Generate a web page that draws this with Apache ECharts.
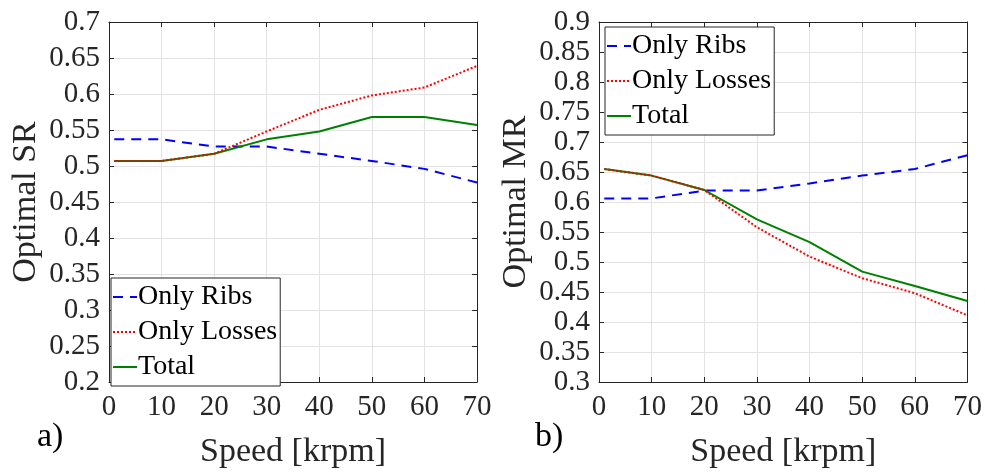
<!DOCTYPE html>
<html>
<head>
<meta charset="utf-8">
<script src="https://cdn.jsdelivr.net/npm/echarts@6/dist/echarts.min.js"></script>
<style>html,body{margin:0;padding:0;background:#fff}#c{width:985px;height:474px}</style>
</head>
<body>
<div id="c"></div>
<script>
const speeds = [1, 10, 20, 30, 40, 50, 60, 70];
const srRibs   = [0.537, 0.537, 0.527, 0.527, 0.517, 0.507, 0.496, 0.477];
const srLosses = [0.507, 0.507, 0.517, 0.548, 0.578, 0.598, 0.609, 0.639];
const srTotal  = [0.507, 0.507, 0.517, 0.537, 0.548, 0.568, 0.568, 0.557];
const mrRibs   = [0.606, 0.606, 0.619, 0.619, 0.631, 0.644, 0.655, 0.678];
const mrLosses = [0.655, 0.644, 0.620, 0.558, 0.509, 0.473, 0.448, 0.411];
const mrTotal  = [0.655, 0.644, 0.620, 0.571, 0.533, 0.484, 0.460, 0.435];
const seriesNames = ['Only Ribs', 'Only Losses', 'Total'];
const xTicks = [0, 10, 20, 30, 40, 50, 60, 70];

const FONT = 'Liberation Serif';
const TXT = '#262626';
const pairs = (ys) => speeds.map((s, i) => [s, ys[i]]);

function xAxes(gi) {
  return [
    { gridIndex: gi, type: 'value', min: xTicks[0], max: xTicks[xTicks.length - 1], interval: 10, position: 'bottom',
      name: 'Speed [krpm]', nameLocation: 'middle', nameGap: 53,
      nameTextStyle: { fontFamily: FONT, fontSize: 34, color: TXT },
      axisLine: { show: true, lineStyle: { color: TXT, width: 1 } },
      axisTick: { show: true, inside: true, length: 5, lineStyle: { color: TXT } },
      axisLabel: { fontFamily: FONT, fontSize: 29, color: TXT, margin: 11 },
      splitLine: { show: true, lineStyle: { color: '#e3e3e3', width: 1 } } },
    { gridIndex: gi, type: 'value', min: xTicks[0], max: xTicks[xTicks.length - 1], interval: 10, position: 'top',
      axisLine: { show: true, onZero: false, lineStyle: { color: TXT, width: 1 } },
      axisTick: { show: true, inside: true, length: 5, lineStyle: { color: TXT } },
      axisLabel: { show: false }, splitLine: { show: false } }
  ];
}
function yAxes(gi, min, max, name) {
  return [
    { gridIndex: gi, type: 'value', min: min, max: max, interval: 0.05, position: 'left',
      name: name, nameLocation: 'middle', nameGap: 66, nameRotate: 90,
      nameTextStyle: { fontFamily: FONT, fontSize: 34, color: TXT },
      axisLine: { show: true, onZero: false, lineStyle: { color: TXT, width: 1 } },
      axisTick: { show: true, inside: true, length: 5, lineStyle: { color: TXT } },
      axisLabel: { fontFamily: FONT, fontSize: 29, color: TXT, margin: 9,
        formatter: v => String(+v.toFixed(2)) },
      splitLine: { show: true, lineStyle: { color: '#e3e3e3', width: 1 } } },
    { gridIndex: gi, type: 'value', min: min, max: max, interval: 0.05, position: 'right',
      axisLine: { show: true, onZero: false, lineStyle: { color: TXT, width: 1 } },
      axisTick: { show: true, inside: true, length: 5, lineStyle: { color: TXT } },
      axisLabel: { show: false }, splitLine: { show: false } }
  ];
}
const styles = [
  { color: '#0000ff', type: [10, 7] },
  { color: '#ff0000', type: [2, 2] },
  { color: '#008000', type: 'solid' }
];
function mkSeries(xi, yi, datasets) {
  return datasets.map((d, k) => ({
    name: seriesNames[k], type: 'line', xAxisIndex: xi, yAxisIndex: yi,
    data: pairs(d), symbol: 'none', showSymbol: false, silent: true,
    lineStyle: { color: styles[k].color, width: 2, type: styles[k].type },
    itemStyle: { color: styles[k].color },
    z: k === 1 ? 4 : 3
  }));
}
function mkLegend(left, top) {
  return {
    left: left, top: top, orient: 'vertical', data: seriesNames,
    backgroundColor: '#fff', borderColor: TXT, borderWidth: 1,
    padding: [5, 3, 5, 1], itemGap: 7, itemWidth: 24, itemHeight: 14,
    selectedMode: false,
    itemStyle: { opacity: 0, borderWidth: 0 },
    textStyle: { fontFamily: FONT, fontSize: 28, color: '#000', padding: [0, 0, 0, -4] }
  };
}

const chart = echarts.init(document.getElementById('c'), null, { renderer: 'canvas' });
chart.setOption({
  animation: false,
  backgroundColor: '#fff',
  textStyle: { fontFamily: FONT },
  title: [
    { text: 'a)', left: 37, top: 420, textStyle: { fontFamily: FONT, fontSize: 34, fontWeight: 'normal', color: '#000' }, padding: 0 },
    { text: 'b)', left: 535, top: 420, textStyle: { fontFamily: FONT, fontSize: 34, fontWeight: 'normal', color: '#000' }, padding: 0 }
  ],
  grid: [
    { left: 109, right: 508, top: 22, bottom: 84 },
    { left: 599, right: 17, top: 22, bottom: 84 }
  ],
  xAxis: [...xAxes(0), ...xAxes(1)],
  yAxis: [...yAxes(0, 0.2, 0.7, 'Optimal SR'), ...yAxes(1, 0.3, 0.9, 'Optimal MR')],
  legend: [mkLegend(111, 278), mkLegend(605, 27)],
  series: [
    ...mkSeries(0, 0, [srRibs, srLosses, srTotal]),
    ...mkSeries(2, 2, [mrRibs, mrLosses, mrTotal])
  ]
});
</script>
</body>
</html>
